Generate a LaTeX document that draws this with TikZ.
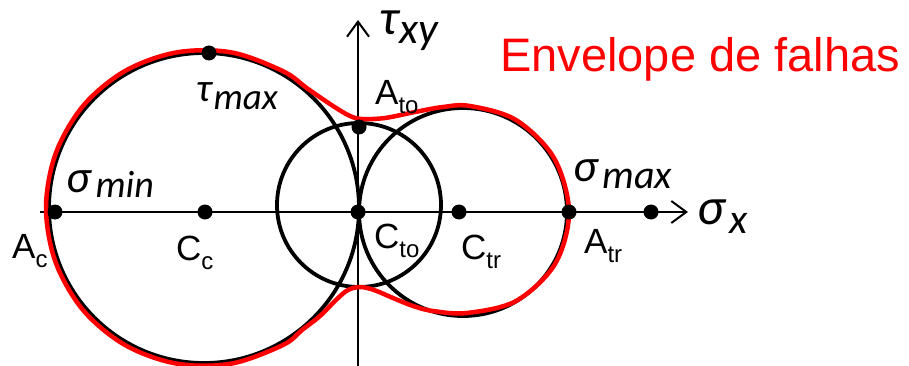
\documentclass[tikz,border=0pt]{standalone}
\usepackage{fontspec}
\setmainfont{Liberation Sans}
\newfontfamily\grkfont{Carlito}
\usetikzlibrary{arrows.meta}
\newcommand\MyLab[2]{{\fontsize{35}{35}\selectfont #1}\raisebox{-9pt}{\fontsize{24}{24}\selectfont #2}}
\newcommand\MyGk[6]{{\grkfont\itshape\fontsize{#3}{#3}\selectfont #1}\hspace{#6pt}\raisebox{-#5pt}{\grkfont\itshape\fontsize{#4}{#4}\selectfont #2}}
\begin{document}
\begin{tikzpicture}[x=1pt,y=1pt,
  circ/.style={line width=3.8pt},
  axis/.style={line width=2pt,-{Straight Barb[length=15pt,width=22pt,line width=2pt]}},
  dotn/.style={circle,fill=black,inner sep=0pt,minimum size=15pt},
  env/.style={red,line width=4.5pt},
  lab/.style={inner sep=0pt,anchor=base west}]
\useasboundingbox (0,0) rectangle (909,-366);
\clip (0,0) rectangle (909,-366);
% circles
\draw[circ] (204,-208) circle (155);
\draw[circ] (359,-205) circle (82);
\draw[circ] (463,-212) circle (104);
% axes
\coordinate (xs) at (40,-212);
\coordinate (xe) at (688,-212);
\coordinate (ys) at (358,-366);
\coordinate (ye) at (358,-20);
\draw[axis] (xs) -- (xe);
\draw[axis] (ys) -- (ye);
% envelope
\draw[env] plot[smooth cycle, tension=0.55] coordinates {
 (46,-208) (55.5,-154) (83,-106) (125,-71) (176.6,-52.4) (231.4,-52.4) (283,-71.2)
 (308,-89) (333,-106) (350,-116) (362,-119) (385,-118) (415,-112) (443,-107) (470,-106)
 (516,-120) (554,-158) (569,-212) (555,-264) (516,-301) (467,-313) (433,-311) (413,-306)
 (393,-298) (374,-290) (360,-287) (348,-290) (337,-299) (320,-316) (302,-330) (283,-345)
 (231.4,-363.6) (176.6,-363.6) (125,-345) (83,-310) (55.5,-262)};
% dots
\node[dotn] (Ac) at (55,-212) {};
\node[dotn] (Cc) at (205,-212) {};
\node[dotn] (Cto) at (358,-212) {};
\node[dotn] (Ctr) at (459,-212) {};
\node[dotn] (Atr) at (569,-212) {};
\node[dotn] (P) at (651,-212) {};
\node[dotn] (Tm) at (209,-53) {};
\node[dotn] (Ato) at (359,-127) {};
% labels
\node[lab,red] (env) at (500,-72) {\fontsize{47}{47}\selectfont Envelope de falhas};
\node[lab] (lAc) at (12,-258) {\MyLab{A}{c}};
\node[lab] (lCc) at (176,-260) {\MyLab{C}{c}};
\node[lab] (lCto) at (374,-248) {\MyLab{C}{to}};
\node[lab] (lAto) at (375,-105) {\MyLab{A}{to}};
\node[lab] (lCtr) at (461,-259) {\MyLab{C}{tr}};
\node[lab] (lAtr) at (584,-253) {\MyLab{A}{tr}};
\node[lab] (lsmin) at (66,-193) {\MyGk{σ}{min}{46}{38}{5}{5}};
\node[lab] (ltmax) at (196,-102) {\MyGk{τ}{max}{40}{37}{8}{2}};
\node[lab] (lsmax) at (573,-182) {\MyGk{σ}{max}{46}{40}{6}{5}};
\node[lab] (lsx) at (697,-224) {\MyGk{σ}{x}{52}{42}{9}{5}};
\node[lab] (ltxy) at (379,-35) {\MyGk{τ}{xy}{50}{44}{9}{1}};
\end{tikzpicture}
\end{document}
